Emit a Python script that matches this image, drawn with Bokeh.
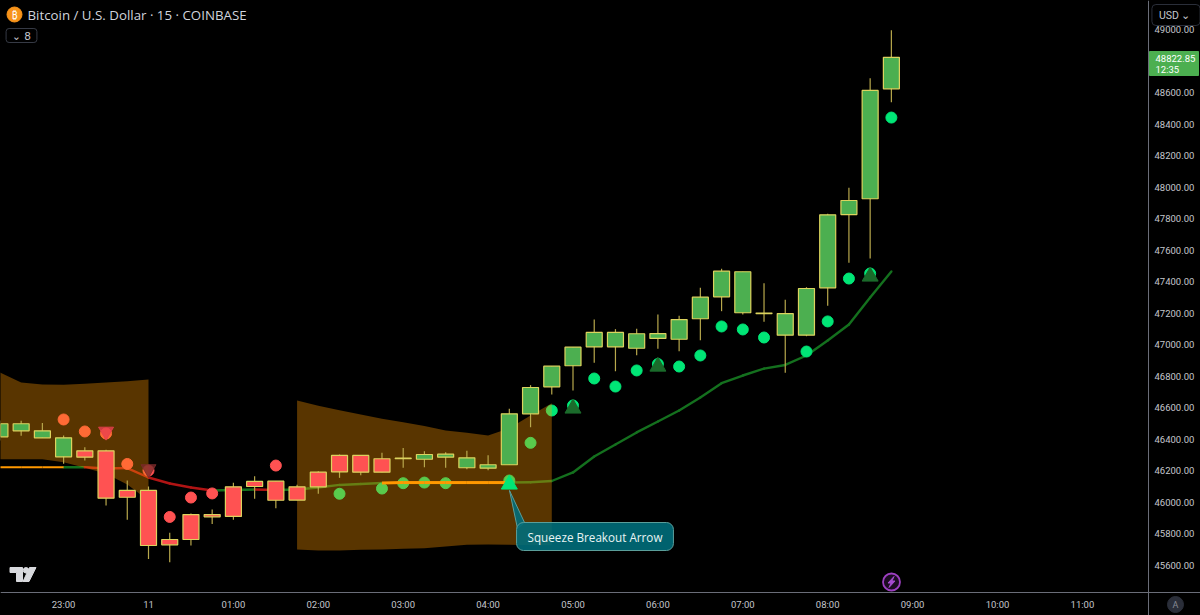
from bokeh.plotting import figure
from bokeh.models import FixedTicker, Label, GlobalInlineStyleSheet
from bokeh.embed import file_html
from bokeh.resources import INLINE


#candles, 15 min bars
bar_times = ["22:15", "22:30", "22:45", "23:00", "23:15", "23:30", "23:45", "00:00", "00:15", "00:30", "00:45",
             "01:00", "01:15", "01:30", "01:45", "02:00", "02:15", "02:30", "02:45", "03:00", "03:15", "03:30",
             "03:45", "04:00", "04:15", "04:30", "04:45", "05:00", "05:15", "05:30", "05:45", "06:00", "06:15",
             "06:30", "06:45", "07:00", "07:15", "07:30", "07:45", "08:00", "08:15", "08:30", "08:45"]
opens = [46416, 46454, 46410, 46289, 46327, 46327, 46076, 46076, 45765, 45923, 45923,
         46099, 46133, 46135, 46099, 46192, 46298, 46298, 46277, 46277, 46274, 46287,
         46220, 46217, 46239, 46562, 46733, 46867, 46987, 46987, 46978, 47040, 47035,
         47165, 47304, 47203, 47198, 47061, 47061, 47361, 47826, 47926, 48623]
highs = [46520, 46518, 46503, 46425, 46350, 46334, 46139, 46101, 45807, 45930, 45955,
         46125, 46166, 46135, 46112, 46198, 46304, 46298, 46315, 46346, 46325, 46319,
         46327, 46300, 46594, 46744, 46864, 46985, 47160, 47099, 47101, 47192, 47184,
         47361, 47482, 47463, 47390, 47285, 47365, 47831, 47996, 48691, 48995]
lows = [46393, 46423, 46410, 46245, 46266, 45981, 45890, 45642, 45621, 45727, 45864,
        45890, 46023, 45963, 46014, 46055, 46156, 46173, 46192, 46220, 46223, 46220,
        46211, 46204, 46239, 46477, 46685, 46710, 46886, 46832, 46934, 46974, 46959,
        47029, 47213, 47192, 47146, 46823, 47054, 47247, 47520, 47547, 48538]
closes = [46499, 46499, 46454, 46410, 46287, 46027, 46033, 45727, 45731, 45765, 45909,
          45911, 46101, 46014, 46015, 46099, 46194, 46192, 46192, 46281, 46304, 46306,
          46283, 46239, 46562, 46729, 46864, 46985, 47078, 47078, 47070, 47071, 47160,
          47302, 47467, 47463, 47201, 47198, 47357, 47824, 47915, 48613, 48822.85]
ma_values = [46223, 46223, 46223, 46223, 46223, 46215, 46218, 46158, 46120, 46095, 46076,
             46079, 46082, 46079, 46082, 46095, 46111, 46117, 46123, 46126, 46126, 46126,
             46126, 46126, 46126, 46128, 46136, 46190, 46291, 46367, 46444, 46513, 46583,
             46666, 46756, 46805, 46849, 46872, 46932, 47027, 47129, 47300, 47465]
#state of each line piece: o = squeeze, r = falling, g = rising
ma_states = "ooogrrrrrrggrgggggooooooggggggggggggggggggg"

#dots and arrows
red_dot_times = ["23:00", "23:15", "23:30", "23:45", "00:00", "00:15", "00:30", "00:45", "01:30"]
red_dot_prices = [46526, 46450, 46437, 46244, 46202, 45908, 46031, 46057, 46234]
green_dot_times = ["02:15", "02:45", "03:00", "03:15", "03:30", "04:15", "04:30", "04:45", "05:00", "05:15", "05:30",
                   "05:45", "06:00", "06:15", "06:30", "06:45", "07:00", "07:15", "07:45", "08:00", "08:15", "08:30", "08:45"]
green_dot_prices = [46055, 46088, 46122, 46126, 46122, 46139, 46378, 46583, 46615, 46786, 46735,
                    46837, 46878, 46862, 46932, 47116, 47097, 47046, 46957, 47148, 47420, 47452, 48441]
down_arrow_times = ["23:30", "00:00"]
down_arrow_prices = [46450, 46212]
up_arrow_times = ["05:00", "06:00", "08:30"]
up_arrow_prices = [46596, 46862, 47433]
breakout_time = "04:15"
breakout_price = 46114

#squeeze bands
band1_times = ["22:15", "22:30", "22:45", "23:00", "23:15", "23:30", "23:45", "00:00"]
band1_upper = [46824, 46761, 46748, 46746, 46752, 46761, 46769, 46780]
band1_lower = [46274, 46274, 46274, 46255, 46220, 46182, 46114, 46012]
band2_times = ["01:45", "02:00", "02:15", "02:30", "02:45", "03:00", "03:15", "03:30", "03:45", "04:00", "04:15", "04:30", "04:45"]
band2_upper = [46646, 46613, 46585, 46558, 46530, 46509, 46484, 46456, 46442, 46425, 46471, 46551, 46629]
band2_lower = [45702, 45695, 45695, 45700, 45702, 45706, 45710, 45720, 45731, 45733, 45731, 45729, 45729]

#axes
time_ticks = [-1, 0, 1, 2, 3, 4, 5, 6, 7, 8, 9, 10, 11]
time_labels = ["23:00", "11", "01:00", "02:00", "03:00", "04:00", "05:00", "06:00", "07:00", "08:00", "09:00", "10:00", "11:00"]
price_ticks = [45600, 45800, 46000, 46200, 46400, 46600, 46800, 47000, 47200, 47400, 47600, 47800, 48000, 48200, 48400, 48600, 49000]


def to_hours(t):
    hour, minute = t.split(":")
    hour = int(hour)
    if hour >= 22:
        hour -= 24
    return hour + int(minute) / 60


def hours_list(times):
    return [to_hours(t) for t in times]


#reference pixel -> data, used for the decorations only
def x_at(px):
    return (px - 148) / 84.9


def y_at(py):
    return 45600 + (565 - py) * 6.3424


p = figure(width=1200, height=615, output_backend="svg", toolbar_location=None,
           x_range=(x_at(0), x_at(1200)), y_range=(y_at(615), y_at(0)), y_axis_location="right",
           background_fill_color="black", border_fill_color="black", outline_line_color=None, min_border=0)
p.stylesheets = [GlobalInlineStyleSheet(css="body{background:#000}")]
p.grid.visible = False

#axes sit inside the frame so the widgets on the price scale are not clipped
p.xaxis.fixed_location = y_at(592)
p.yaxis.fixed_location = x_at(1148)
p.xaxis.ticker = FixedTicker(ticks=time_ticks)
p.xaxis.major_label_overrides = dict(zip(time_ticks, time_labels))
p.yaxis.ticker = FixedTicker(ticks=price_ticks)
p.yaxis.major_label_overrides = {t: "%.2f" % t for t in price_ticks}
for axis in [p.xaxis[0], p.yaxis[0]]:
    axis.axis_line_color = "#6a6d78"
    axis.major_tick_line_color = None
    axis.minor_tick_line_color = None
    axis.major_label_text_color = "#c4c6cc"
    axis.major_label_text_font = "Roboto"
    axis.major_label_text_font_size = "9.5px"
p.xaxis.major_label_standoff = 0
p.yaxis.major_label_standoff = 0

bar_x = hours_list(bar_times)

#moving average under the bands
under_x0, under_x1, under_y0, under_y1, under_color = [], [], [], [], []
over_x0, over_x1, over_y0, over_y1, over_width = [], [], [], [], []
for i in range(len(bar_x) - 1):
    if ma_states[i] == "o":
        over_x0.append(bar_x[i])
        over_x1.append(bar_x[i + 1])
        over_y0.append(ma_values[i])
        over_y1.append(ma_values[i + 1])
        over_width.append(2 if i < 3 else 3)
    else:
        under_x0.append(bar_x[i])
        under_x1.append(bar_x[i + 1])
        under_y0.append(ma_values[i])
        under_y1.append(ma_values[i + 1])
        under_color.append("#b01414" if ma_states[i] == "r" else "#14701e")
p.segment(under_x0, under_y0, under_x1, under_y1, line_color=under_color, line_width=2.4, line_cap="round")

p.scatter(hours_list(red_dot_times), red_dot_prices, size=11, color="#ff5252")
p.scatter(hours_list(green_dot_times), green_dot_prices, size=11, color="#00e676")

p.varea(hours_list(band1_times), band1_lower, band1_upper, fill_color="#ff9800", fill_alpha=0.35)
p.varea(hours_list(band2_times), band2_lower, band2_upper, fill_color="#ff9800", fill_alpha=0.35)

p.segment(over_x0, over_y0, over_x1, over_y1, line_color="#ff9800", line_width=over_width)

#candles
body_colors = ["#4caf50" if c >= o else "#ff5252" for o, c in zip(opens, closes)]
p.segment(bar_x, highs, bar_x, lows, line_color="#b8a84c", line_width=1.2)
p.vbar(bar_x, 0.1885, opens, closes, fill_color=body_colors, line_color="#dcd35e", line_width=1.2)

#arrows
p.scatter(hours_list(down_arrow_times), down_arrow_prices, marker="inverted_triangle", size=15,
          color=["#e8404f", "#7a2a2a"], alpha=0.8)
p.scatter(hours_list(up_arrow_times), up_arrow_prices, marker="triangle", size=16, color="#1b6b2b")
p.scatter([to_hours(breakout_time)], [breakout_price], marker="triangle", size=16, color="#00e676")

#callout pointer and box
p.patch([x_at(509), x_at(524), x_at(517)], [y_at(490), y_at(522), y_at(528)], fill_color="#006d7a", fill_alpha=0.9,
        line_color="#5b9e9a", line_width=1)
p.add_layout(Label(x=x_at(594.5), y=y_at(536), text="Squeeze Breakout Arrow", text_align="center", text_baseline="middle",
                   text_color="#e8f4f4", text_font="Open Sans", text_font_size="11.7px", background_fill_color="#006d7a",
                   background_fill_alpha=0.9, border_line_color="#5b9e9a", padding=(11, 6), border_radius=7))

#tradingview logo
p.patch([x_at(a) for a in [9.5, 22, 22, 16, 16, 9.5]], [y_at(a) for a in [567, 567, 581, 581, 572, 572]], color="#d8d9dd")
p.patch([x_at(a) for a in [29, 35.5, 28.5, 22.5]], [y_at(a) for a in [567, 567, 581, 581]], color="#d8d9dd")
p.scatter([x_at(25.5)], [y_at(569.8)], size=5.5, color="#d8d9dd")

#bolt badge
p.scatter([x_at(891)], [y_at(581.5)], size=17, fill_color="#1c0c22", line_color="#9c3fc0", line_width=1.8)
p.patch([x_at(a) for a in [893.5, 887.5, 890.5, 888.5, 894.5, 891.5]], [y_at(a) for a in [576, 582.5, 582.5, 587, 580.5, 580.5]],
        color="#a64bd0")

#header
p.scatter([x_at(14)], [y_at(14)], size=15, color="#f7931a")
p.add_layout(Label(x=x_at(14), y=y_at(14), text="\u20bf", text_align="center", text_baseline="middle", text_color="#ffffff",
                   text_font="Noto Sans", text_font_size="10px"))
p.add_layout(Label(x=x_at(27), y=y_at(14), text="Bitcoin / U.S. Dollar \u00b7 15 \u00b7 COINBASE", text_align="left",
                   text_baseline="middle", text_color="#d1d4dc", text_font="Open Sans", text_font_size="13.3px"))
p.add_layout(Label(x=x_at(21), y=y_at(35), text="\u2304 8", text_align="center", text_baseline="middle", text_color="#c4c6cc",
                   text_font="DejaVu Sans", text_font_size="10.5px", border_line_color="#363a45", padding=(6, 1), border_radius=3))

#price scale widgets
p.add_layout(Label(x=x_at(1175.5), y=y_at(14.5), text="USD  \u2304", text_align="center", text_baseline="middle", text_color="#c4c6cc",
                   text_font="Roboto", text_font_size="10.5px", background_fill_color="#000000", border_line_color="#2a2e39",
                   padding=(7, 4), border_radius=4))
p.quad(left=[x_at(1149)], right=[x_at(1198)], top=[y_at(51)], bottom=[y_at(75)], color="#4caf50")
p.add_layout(Label(x=x_at(1155), y=y_at(57.5), text="48822.85", text_align="left", text_baseline="middle", text_color="#ffffff",
                   text_font="Roboto", text_font_size="9.5px"))
p.add_layout(Label(x=x_at(1155), y=y_at(69), text="12:35", text_align="left", text_baseline="middle", text_color="#ffffff",
                   text_font="Roboto", text_font_size="9.5px"))
p.scatter([x_at(1175)], [y_at(604)], size=16, color="#2a2e39")
p.add_layout(Label(x=x_at(1175), y=y_at(604), text="A", text_align="center", text_baseline="middle", text_color="#868993",
                   text_font="Roboto", text_font_size="9px"))

open("out.html", "w").write(file_html(p, INLINE))
